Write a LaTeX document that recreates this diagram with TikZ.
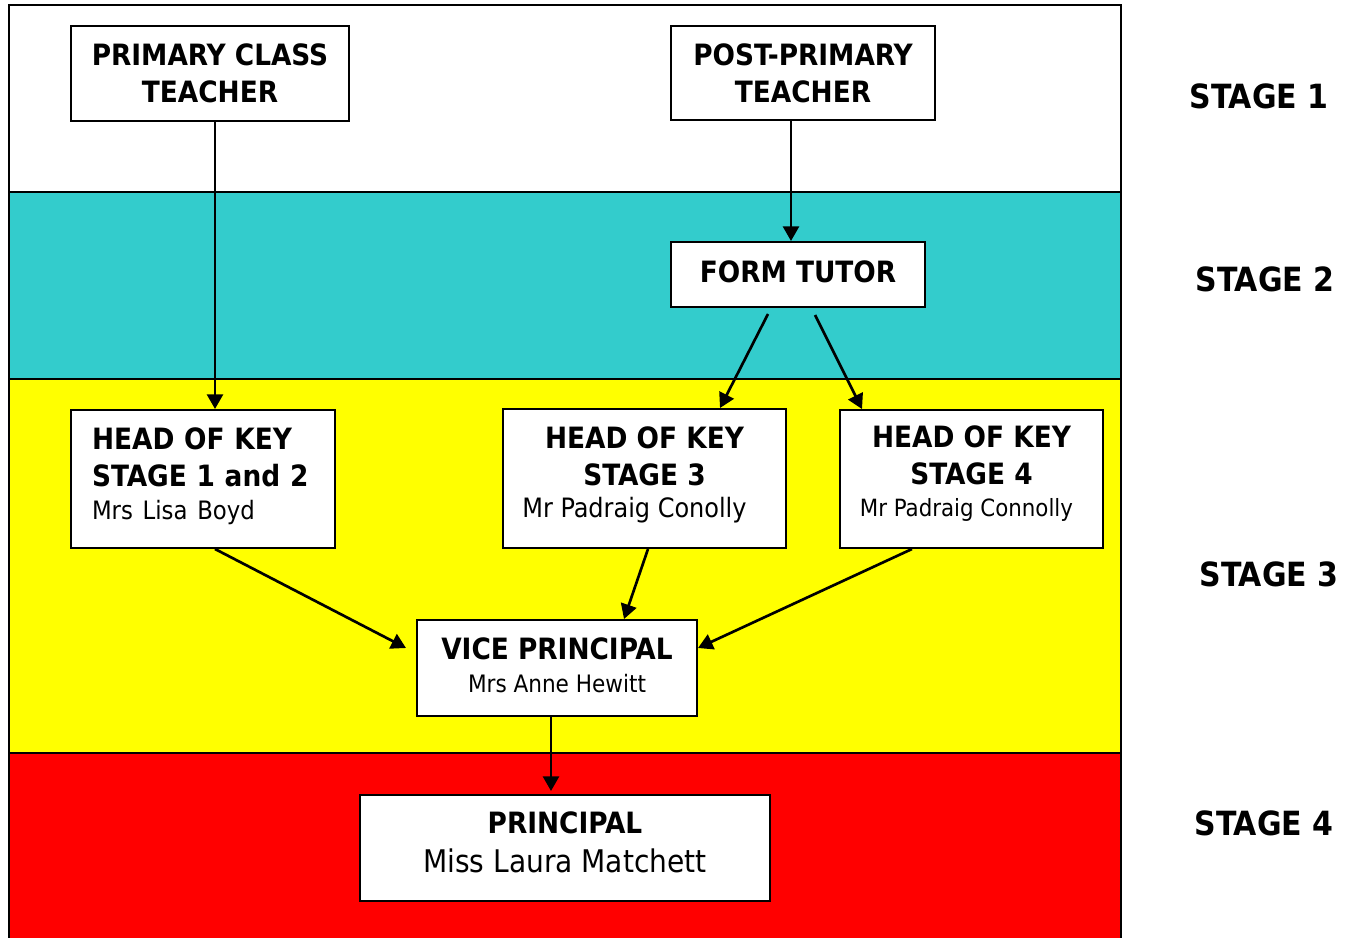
\documentclass[tikz,border=0pt]{standalone}
\usepackage{fontspec}
\setmainfont{DejaVu Sans Condensed}
\usetikzlibrary{arrows.meta,calc}

\definecolor{bandcyan}{HTML}{33CCCC}
\definecolor{bandyellow}{HTML}{FFFF00}
\definecolor{bandred}{HTML}{FF0000}

\newcommand{\namefont}{\mdseries\fontsize{18}{26}\selectfont}

\tikzset{
	post/.style={draw, line width=1.5pt, fill=white, inner sep=0pt, align=center,
		font=\bfseries\fontsize{22}{27.75}\selectfont},
	arr/.style={line width=2pt, -{Triangle[length=11pt, width=12pt]}},
	stagelbl/.style={font=\bfseries\fontsize{25}{30}\selectfont},
}

\begin{document}
	\begin{tikzpicture}[x=0.75pt, y=-0.75pt]
		\useasboundingbox (0,0) rectangle (1359,938);
		
		% bands
		\fill[white] (9,5) rectangle (1121,192);
		\fill[bandcyan] (9,192) rectangle (1121,379);
		\fill[bandyellow] (9,379) rectangle (1121,753);
		\fill[bandred] (9,753) rectangle (1121,938);
		\draw[line width=1.8pt] (9,192) -- (1121,192) (9,379) -- (1121,379) (9,753) -- (1121,753);
		\draw[line width=1.8pt] (9,938) -- (9,5) -- (1121,5) -- (1121,938);
		
		% boxes
		\node[post, minimum width=278*0.75pt, minimum height=95*0.75pt] (pct) at (210,73.5) {PRIMARY CLASS\\TEACHER};
		\node[post, minimum width=264*0.75pt, minimum height=94*0.75pt] (ppt) at (803,73) {POST-PRIMARY\\TEACHER};
		\node[post, minimum width=254*0.75pt, minimum height=65*0.75pt] (ft) at (798,274.5) {FORM TUTOR\rule[-4.5pt]{0pt}{1pt}};
		\node[post, inner xsep=15.75pt, text width=166.5pt, align=left, minimum height=138*0.75pt] (hk12) at (203,479)
			{HEAD OF KEY\\STAGE 1 and 2\\[-3pt]{\namefont\fontsize{19}{26}\selectfont Mrs Lisa Boyd\rule[-8.25pt]{0pt}{1pt}}};
		\node[post, minimum width=283*0.75pt, minimum height=139*0.75pt] (hk3) at (644.5,478.5)
			{HEAD OF KEY\\STAGE 3\\[-3.75pt]{\namefont\fontsize{20}{26}\selectfont Mr Padraig Conolly\rule[-9.5pt]{0pt}{1pt}\hspace*{15pt}}};
		\node[post, minimum width=263*0.75pt, minimum height=138*0.75pt] (hk4) at (971.5,479)
			{HEAD OF KEY\\STAGE 4\\[-3.75pt]{\namefont\fontsize{17.8}{24}\selectfont Mr Padraig Connolly\rule[-11.3pt]{0pt}{1pt}\hspace*{7.5pt}}};
		\node[post, minimum width=280*0.75pt, minimum height=96*0.75pt] (vp) at (557,668)
			{VICE PRINCIPAL\\[-3pt]{\namefont Mrs Anne Hewitt\rule[-4.5pt]{0pt}{1pt}}};
		\node[post, minimum width=410*0.75pt, minimum height=106*0.75pt] (pr) at (565,848)
			{PRINCIPAL\\[1.5pt]{\namefont\fontsize{23.4}{30}\selectfont Miss Laura Matchett\rule[-8.25pt]{0pt}{1pt}}};
		
		% stage labels
		\node[stagelbl] (s1) at (1259,96) {STAGE 1};
		\node[stagelbl] (s2) at (1265,279) {STAGE 2};
		\node[stagelbl] (s3) at (1269,574) {STAGE 3};
		\node[stagelbl] (s4) at (1264,823) {STAGE 4};
		
		% connectors
		\draw[arr] ($(pct.south)+(5,0)$) -- ($(pct.south |- hk12.north)+(5,0)$);
		\draw[arr] ($(ppt.south)+(-12,0)$) -- ($(ppt.south |- ft.north)+(-12,0)$);
		\draw[arr] ($(ft.south)+(-30,6)$) -- ($(hk3.north)+(75.5,0)$);
		\draw[arr] ($(ft.south)+(17,7)$) -- ($(hk4.north)+(-109.5,0)$);
		\draw[arr] ($(hk12.south)+(12,0)$) -- ($(vp.west)+(-10,-20)$);
		\draw[arr] ($(hk3.south)+(3.5,0)$) -- ($(vp.north)+(67,0)$);
		\draw[arr] ($(hk4.south)+(-59.5,0)$) -- ($(vp.east)+(0,-20)$);
		\draw[arr] ($(vp.south)+(-6,0)$) -- ($(pr.north)+(-14,-3)$);
	\end{tikzpicture}
\end{document}
